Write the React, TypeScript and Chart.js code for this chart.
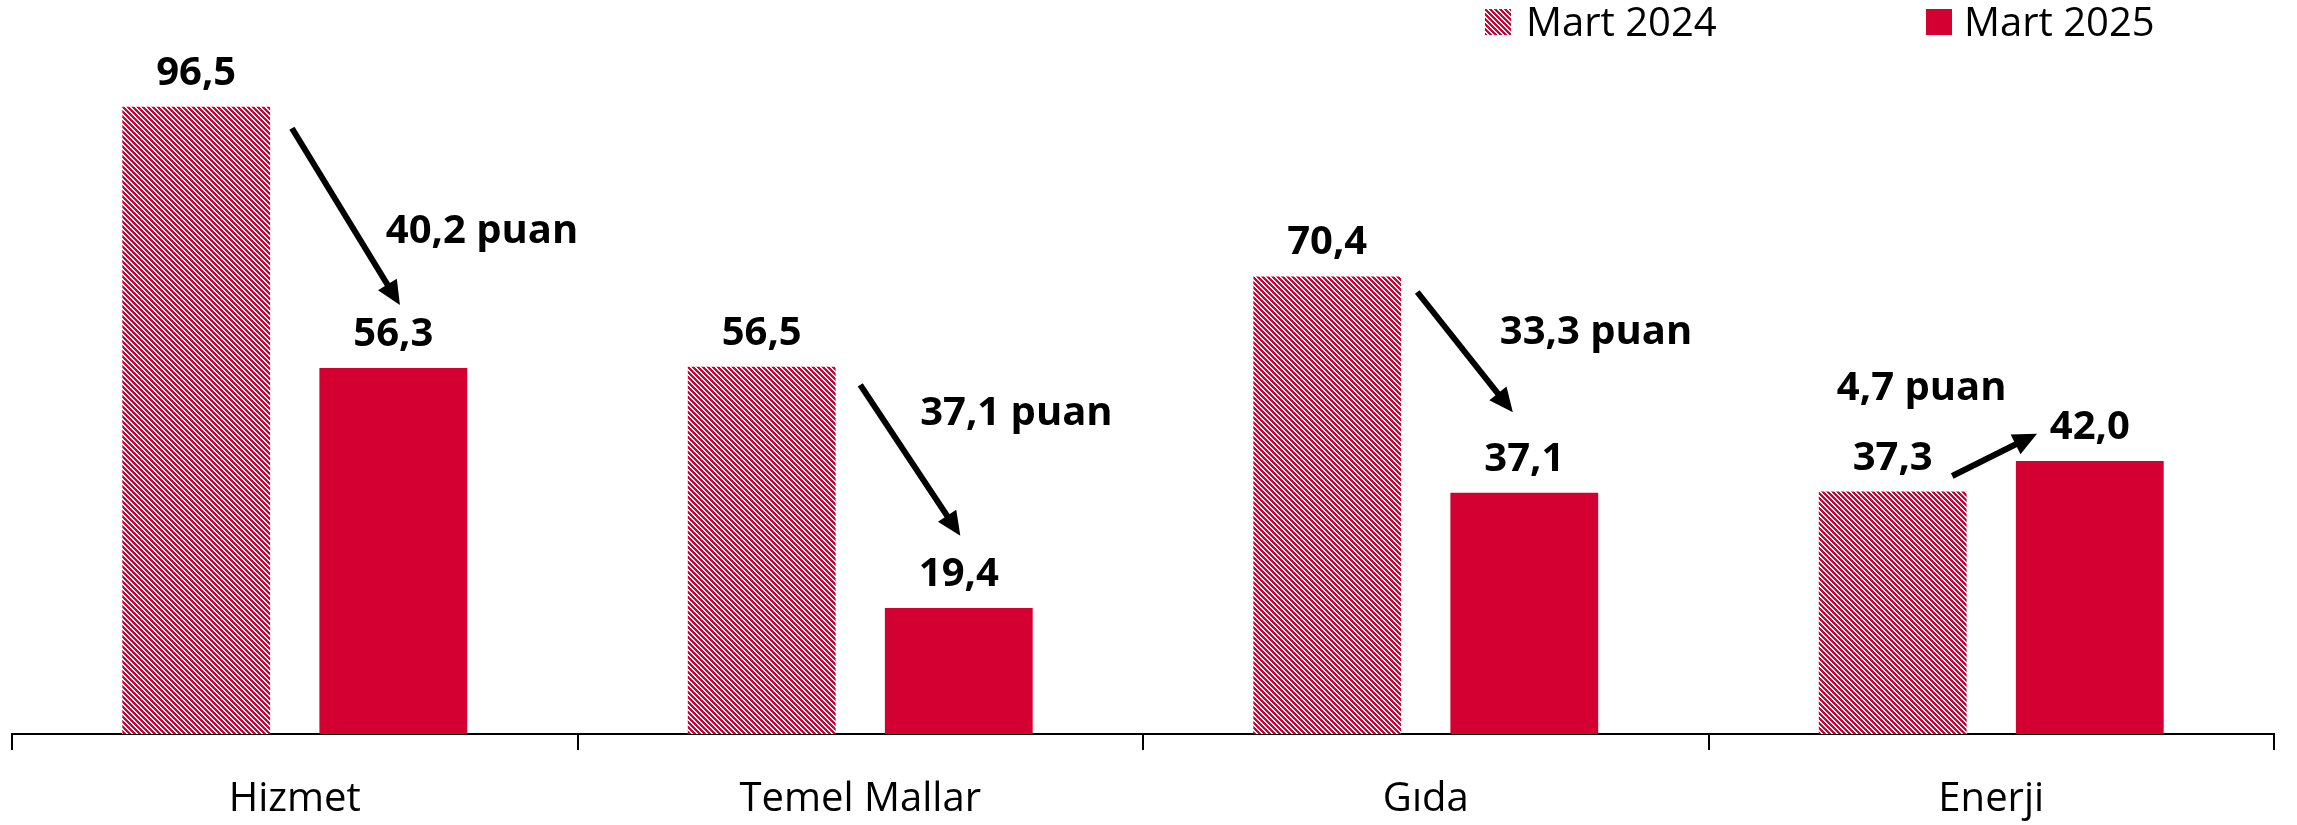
import { useEffect, useRef } from 'react';
import { Chart, registerables } from 'chart.js';

Chart.register(...registerables);

const categories = ['Hizmet', 'Temel Mallar', 'Gıda', 'Enerji'];
const seriesNames = ['Mart 2024', 'Mart 2025'];
const mart2024 = [96.5, 56.5, 70.4, 37.3];
const mart2025 = [56.3, 19.4, 37.1, 42.0];
const changeLabels = ['40,2 puan', '37,1 puan', '33,3 puan', '4,7 puan'];
// annotation anchors in data units: [category index, value]
const changeLabelAt = [[0.161, 75.5], [1.106, 47.5], [2.131, 60.0], [2.727, 51.4]];
const arrowFrom = [[-0.005, 93.2], [1.0, 53.7], [1.985, 68.0], [2.931, 39.7]];
const arrowTo = [[0.186, 66.0], [1.177, 30.5], [2.154, 49.5], [3.081, 46.2]];

const RED = '#D50032';
const FONT = '"Open Sans", "Noto Sans", sans-serif';

function makeHatch(): CanvasPattern | string {
  const c = document.createElement('canvas');
  const n = 5;
  c.width = n;
  c.height = n;
  const g = c.getContext('2d');
  if (!g) return RED;
  g.fillStyle = '#ffffff';
  g.fillRect(0, 0, n, n);
  g.fillStyle = RED;
  for (let y = 0; y < n; y++) {
    for (let x = 0; x < n; x++) {
      if ((((x - y) % n) + n) % n < 3) g.fillRect(x, y, 1, 1);
    }
  }
  const p = g.createPattern(c, 'repeat');
  return p || RED;
}

const fmt = (v: number) => v.toFixed(1).replace('.', ',');

function drawArrow(ctx: CanvasRenderingContext2D, x1: number, y1: number, x2: number, y2: number) {
  const head = 24;
  const half = 11;
  const dx = x2 - x1;
  const dy = y2 - y1;
  const len = Math.hypot(dx, dy);
  const ux = dx / len;
  const uy = dy / len;
  const bx = x2 - ux * head;
  const by = y2 - uy * head;
  ctx.strokeStyle = '#000';
  ctx.fillStyle = '#000';
  ctx.lineWidth = 6;
  ctx.lineCap = 'butt';
  ctx.beginPath();
  ctx.moveTo(x1, y1);
  ctx.lineTo(bx + ux * 2, by + uy * 2);
  ctx.stroke();
  ctx.beginPath();
  ctx.moveTo(x2, y2);
  ctx.lineTo(bx - uy * half, by + ux * half);
  ctx.lineTo(bx + uy * half, by - ux * half);
  ctx.closePath();
  ctx.fill();
}

export default function App() {
  const ref = useRef<HTMLCanvasElement | null>(null);

  useEffect(() => {
    if (!ref.current) return;
    const hatch = makeHatch();

    const overlay = {
      id: 'overlay',
      afterDatasetsDraw(chart: any) {
        const ctx: CanvasRenderingContext2D = chart.ctx;
        const xs = chart.scales.x;
        const ys = chart.scales.y;
        ctx.save();
        // value labels
        ctx.font = `bold 40px ${FONT}`;
        ctx.fillStyle = '#000';
        ctx.textAlign = 'center';
        ctx.textBaseline = 'alphabetic';
        chart.data.datasets.forEach((ds: any, di: number) => {
          chart.getDatasetMeta(di).data.forEach((bar: any, i: number) => {
            ctx.fillText(fmt(ds.data[i]), bar.x, bar.y - 22);
          });
        });
        // arrows
        arrowFrom.forEach((a, i) => {
          const b = arrowTo[i];
          drawArrow(
            ctx,
            xs.getPixelForValue(a[0]),
            ys.getPixelForValue(a[1]),
            xs.getPixelForValue(b[0]),
            ys.getPixelForValue(b[1])
          );
        });
        // change labels
        ctx.fillStyle = '#000';
        ctx.textAlign = 'left';
        ctx.font = `bold 40px ${FONT}`;
        changeLabels.forEach((t, i) => {
          const p = changeLabelAt[i];
          ctx.fillText(t, xs.getPixelForValue(p[0]), ys.getPixelForValue(p[1]));
        });
        // legend
        ctx.font = `40px ${FONT}`;
        const items = [
          { x: 1485, tx: 1526, fill: hatch },
          { x: 1926, tx: 1964, fill: RED },
        ];
        items.forEach((it, i) => {
          ctx.fillStyle = it.fill as any;
          ctx.fillRect(it.x, 9, 26, 26);
          ctx.fillStyle = '#000';
          ctx.fillText(seriesNames[i], it.tx, 36);
        });
        ctx.restore();
      },
    };

    const chart = new Chart(ref.current, {
      type: 'bar',
      data: {
        labels: categories,
        datasets: [
          { label: seriesNames[0], data: mart2024, backgroundColor: hatch as any, borderWidth: 0 },
          { label: seriesNames[1], data: mart2025, backgroundColor: RED, borderWidth: 0 },
        ],
      },
      options: {
        responsive: false,
        animation: false,
        devicePixelRatio: 1,
        layout: { padding: { top: 19, left: 12, right: 23, bottom: 0 } },
        datasets: { bar: { categoryPercentage: 0.697, barPercentage: 0.75 } },
        plugins: { legend: { display: false }, tooltip: { enabled: false } },
        scales: {
          x: {
            grid: {
              display: true,
              drawOnChartArea: false,
              drawTicks: true,
              tickLength: 16,
              color: '#000',
              lineWidth: 2,
              offset: true,
            },
            border: { display: true, color: '#000', width: 2 },
            ticks: {
              color: '#000',
              font: { family: FONT, size: 40 },
              padding: 26,
              maxRotation: 0,
              autoSkip: false,
            },
            afterFit: (scale: any) => {
              scale.height = 91;
            },
          },
          y: {
            display: false,
            min: 0,
            max: 110,
          },
        },
      },
      plugins: [overlay],
    });
    return () => chart.destroy();
  }, []);

  return (
    <div style={{ position: 'absolute', left: 0, top: 0, width: 2297, height: 825, background: '#fff' }}>
      <canvas ref={ref} width={2297} height={825} style={{ width: 2297, height: 825, display: 'block' }} />
    </div>
  );
}
